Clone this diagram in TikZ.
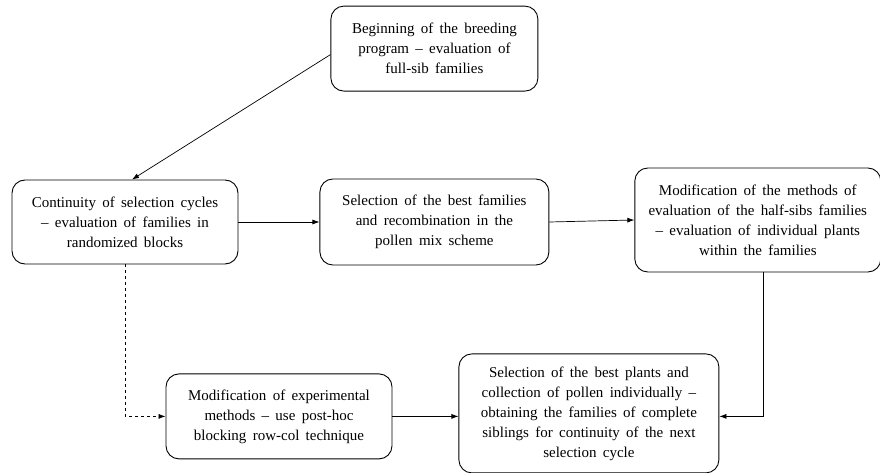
\documentclass[tikz,border=0pt]{standalone}
\usepackage{fontspec}
\setmainfont{Liberation Serif}
\usepackage{tikz}
\usetikzlibrary{positioning, arrows.meta, calc}
\newcommand{\stagefont}{\fontsize{15}{20}\selectfont\spaceskip=0.42em plus 0.1em\relax}

\begin{document}
\begin{tikzpicture}[
  node distance=80pt and 80pt,
  stagebox/.style={draw, rounded corners=13pt, line width=0.9pt, align=center,
              font=\stagefont, inner sep=2pt},
  >={Latex[length=7pt, width=5pt]}
]
  \useasboundingbox (0,0) rectangle (880pt,-473pt);

  % Middle row
  \node[stagebox, minimum width=226pt, minimum height=84pt] (cont) at (125pt,-222pt)
    {Continuity of selection cycles\\-- evaluation of families in\\randomized blocks};
  \node[stagebox, minimum width=229pt, minimum height=86pt, right=81pt of cont] (recomb)
    {Selection of the best families\\and recombination in the\\pollen mix scheme};
  \node[stagebox, minimum width=246pt, minimum height=104pt, right=85pt of recomb,
        yshift=2pt] (halfsib)
    {Modification of the methods of\\evaluation of the half-sibs families\\-- evaluation of individual plants\\within the families};

  % Top
  \node[stagebox, minimum width=207pt, minimum height=85pt, above=87pt of recomb] (start)
    {Beginning of the breeding\\program -- evaluation of\\full-sib families};

  % Bottom row
  \node[stagebox, minimum width=260pt, minimum height=119pt, below=88pt of recomb,
        xshift=154.5pt] (fullsib)
    {Selection of the best plants and\\collection of pollen individually --\\obtaining the families of complete\\siblings for continuity of the next\\selection cycle};
  \node[stagebox, minimum width=226pt, minimum height=85pt, left=66pt of fullsib,
        yshift=-3pt] (exper)
    {Modification of experimental\\methods -- use post-hoc\\blocking row-col technique};

  % Connections
  \draw[->, line width=0.7pt] ([yshift=-6pt]start.west) -- ([xshift=7pt]cont.north);
  \draw[->, line width=0.7pt] (cont.east) -- (recomb.west);
  \draw[->, line width=0.7pt] (recomb.east) -- (halfsib.west);
  \draw[->, line width=0.7pt] ([xshift=6pt]halfsib.south) |- (fullsib.east |- exper.east);
  \draw[->, line width=0.7pt, dashed] (cont.south) |- (exper.west);
  \draw[->, line width=0.7pt] (exper.east) -- (fullsib.west |- exper.east);
\end{tikzpicture}
\end{document}
